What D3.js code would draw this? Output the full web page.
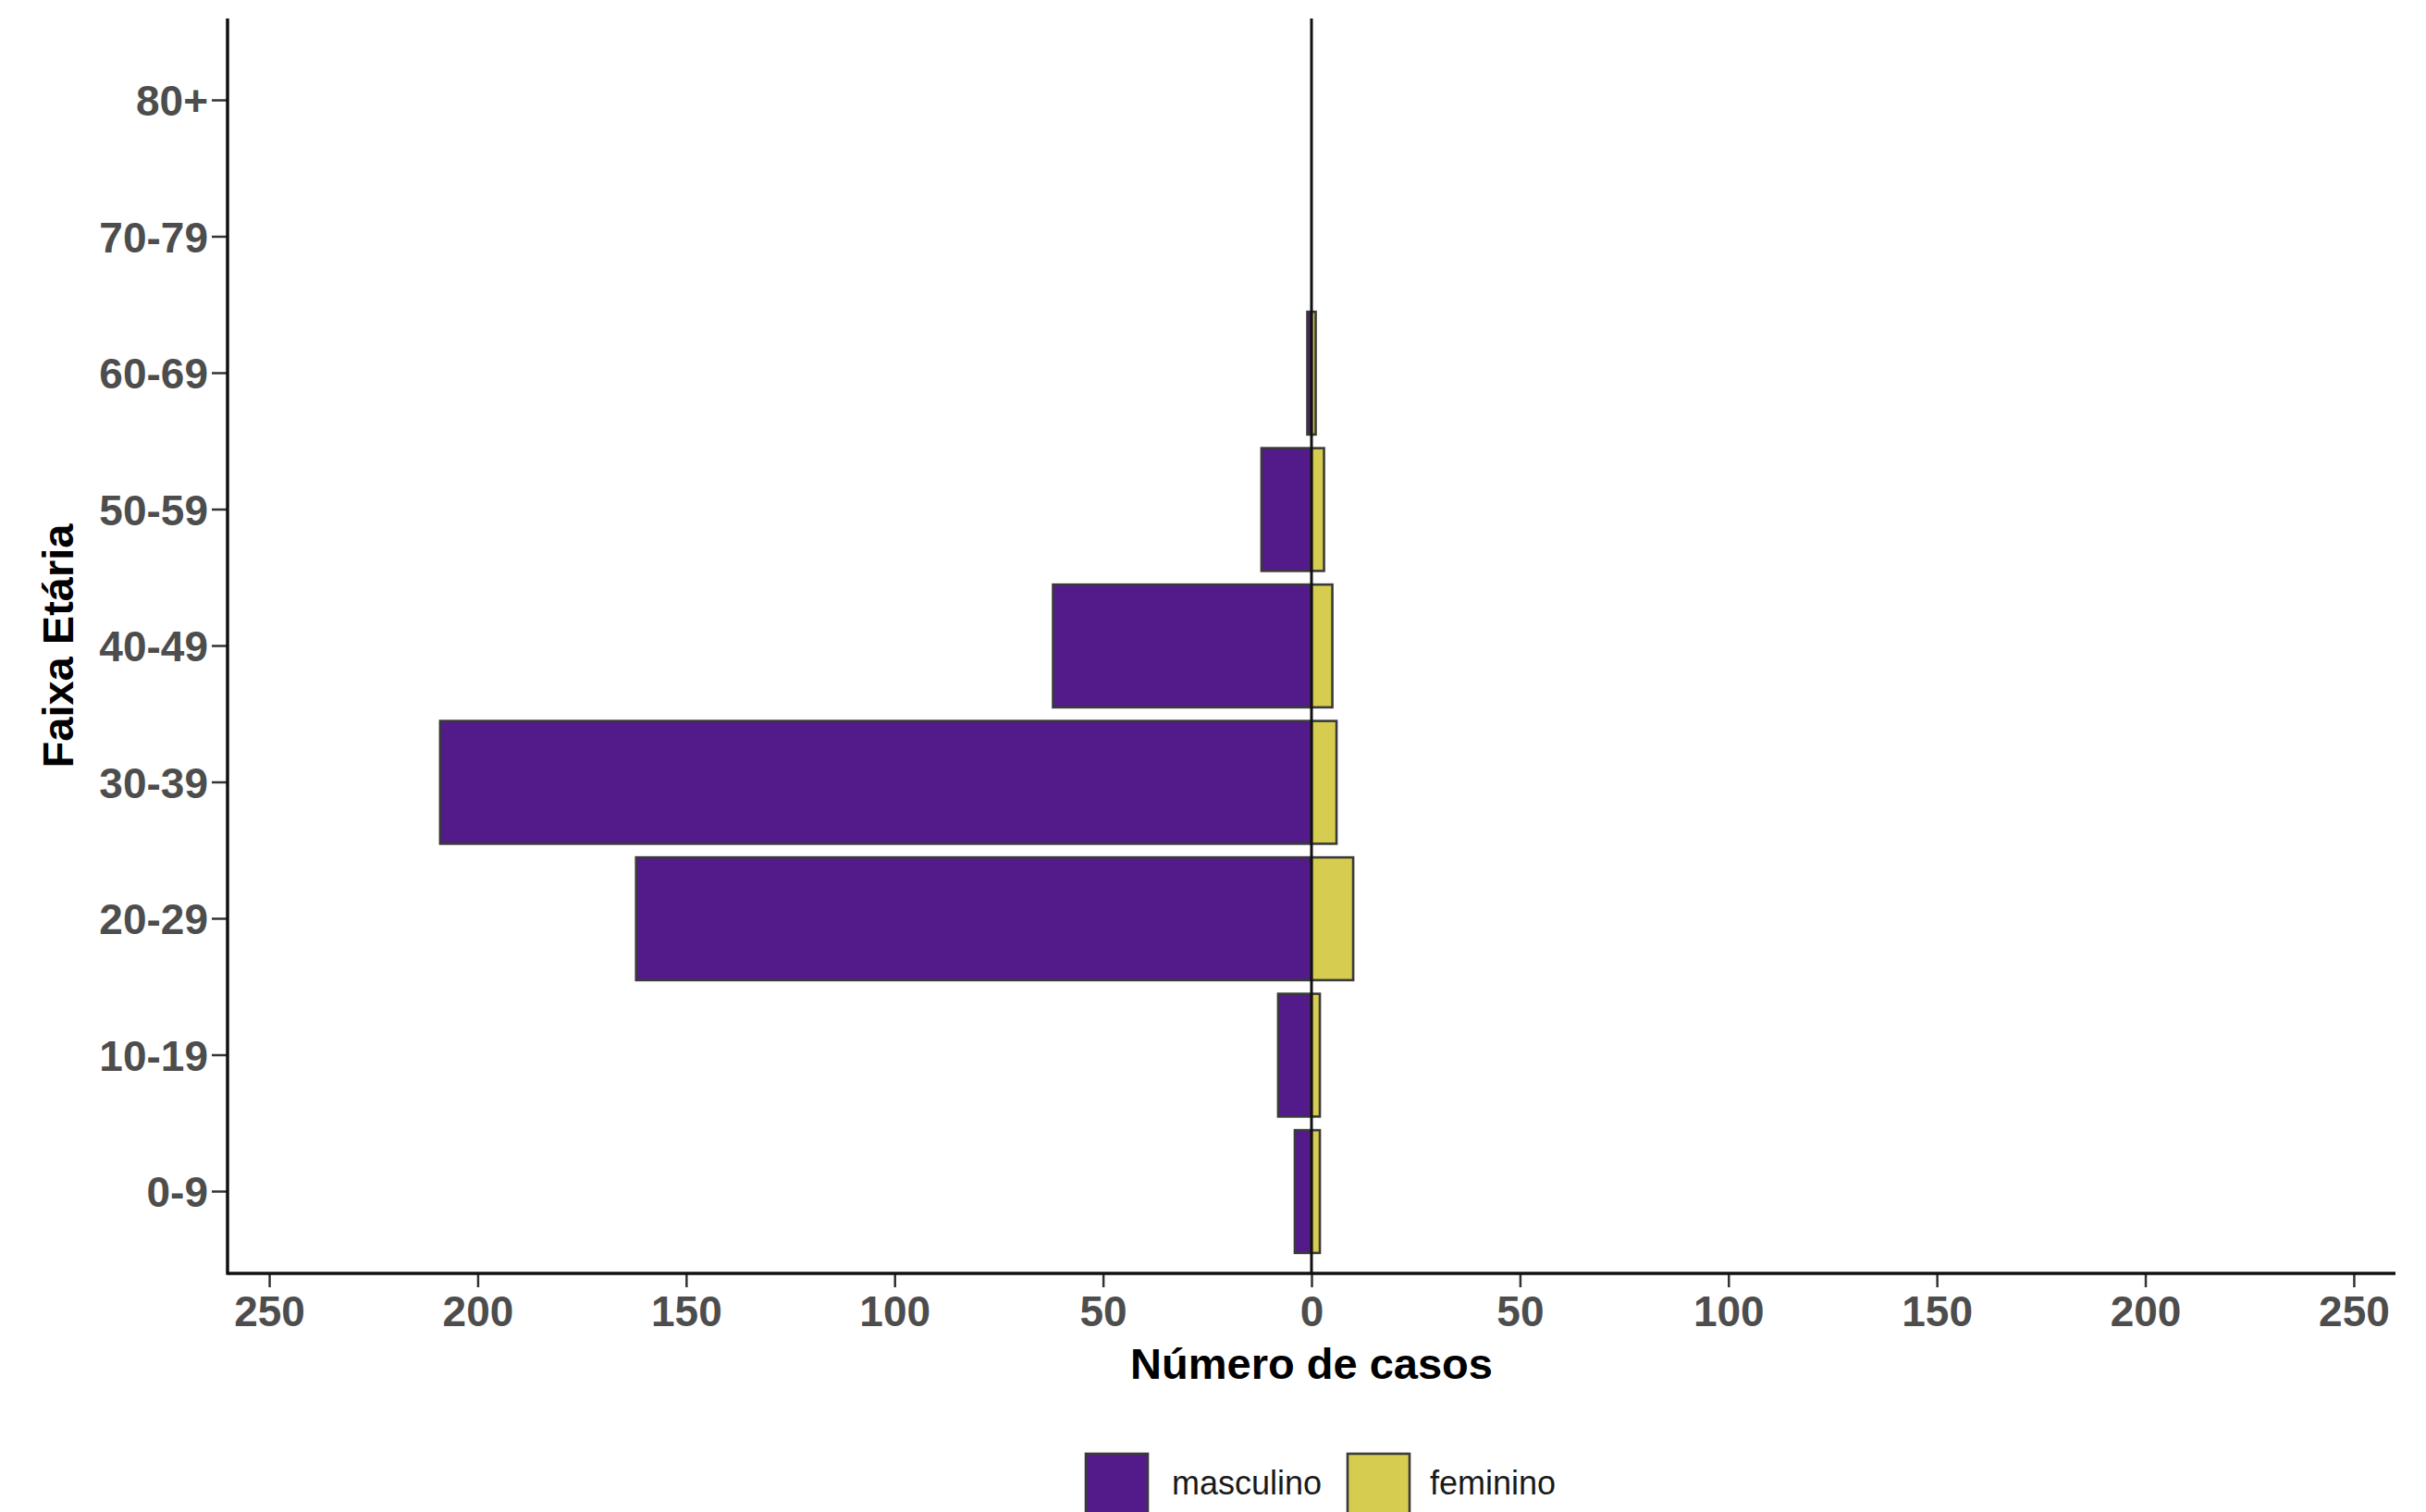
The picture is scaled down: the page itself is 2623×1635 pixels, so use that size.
<!DOCTYPE html>
<html>
<head>
<meta charset="utf-8">
<script src="https://cdn.jsdelivr.net/npm/d3@7"></script>
<style>
  html, body { margin: 0; padding: 0; background: #ffffff; }
  svg { display: block; }
  text { font-family: "Liberation Sans", Arial, sans-serif; }
</style>
</head>
<body>
<svg id="chart" width="2623" height="1635"></svg>
<script>
// ---- data ----
const categories = ["0-9", "10-19", "20-29", "30-39", "40-49", "50-59", "60-69", "70-79", "80+"];
const masculino = [4, 8, 162, 209, 62, 12, 1, 0, 0];
const feminino  = [2, 2, 10, 6, 5, 3, 1, 0, 0];
const xTicks = [-250, -200, -150, -100, -50, 0, 50, 100, 150, 200, 250];
const seriesNames = ["masculino", "feminino"];
const seriesColors = ["#531b8a", "#d6cd50"];

// ---- layout ----
const W = 2623, H = 1635;
const plot = { left: 246, right: 2590, top: 20, bottom: 1377 };

const svg = d3.select("#chart");

const x = d3.scaleLinear().domain([-260, 260]).range([plot.left, plot.right]);
const y = d3.scaleBand()
  .domain(categories)
  .range([plot.bottom, plot.top])
  .paddingInner(0.1)
  .paddingOuter(0.15);

const rows = categories.map((c, i) => ({ cat: c, m: masculino[i], f: feminino[i] }));

// bars
const g = svg.append("g");
g.selectAll("rect.m").data(rows).join("rect")
  .attr("class", "m")
  .attr("x", d => x(-d.m))
  .attr("width", d => x(0) - x(-d.m))
  .attr("y", d => y(d.cat))
  .attr("height", y.bandwidth())
  .attr("fill", seriesColors[0])
  .attr("stroke", "#3a3a3a")
  .attr("stroke-width", 2.6);

g.selectAll("rect.f").data(rows).join("rect")
  .attr("class", "f")
  .attr("x", x(0))
  .attr("width", d => x(d.f) - x(0))
  .attr("y", d => y(d.cat))
  .attr("height", y.bandwidth())
  .attr("fill", seriesColors[1])
  .attr("stroke", "#3a3a3a")
  .attr("stroke-width", 2.6);

// zero line
svg.append("line")
  .attr("x1", x(0)).attr("x2", x(0))
  .attr("y1", plot.top).attr("y2", plot.bottom)
  .attr("stroke", "#111")
  .attr("stroke-width", 3);

// x axis
const xAxis = d3.axisBottom(x)
  .tickValues(xTicks)
  .tickFormat(d => Math.abs(d))
  .tickSize(15)
  .tickPadding(6);
const gx = svg.append("g")
  .attr("transform", `translate(0,${plot.bottom})`)
  .call(xAxis);
gx.select(".domain").remove();
gx.append("line")
  .attr("x1", plot.left).attr("x2", plot.right)
  .attr("y1", 0).attr("y2", 0)
  .attr("stroke", "#111").attr("stroke-width", 3.5);
gx.selectAll(".tick line").attr("stroke", "#333").attr("stroke-width", 2.5);
gx.selectAll(".tick text")
  .attr("font-size", 46)
  .attr("font-weight", "bold")
  .attr("fill", "#4d4d4d")
  .attr("dy", "0.78em");

// y axis
const yAxis = d3.axisLeft(y).tickSize(17).tickPadding(4);
const gy = svg.append("g")
  .attr("transform", `translate(${plot.left},0)`)
  .call(yAxis);
gy.select(".domain").remove();
gy.append("line")
  .attr("x1", 0).attr("x2", 0)
  .attr("y1", plot.top).attr("y2", plot.bottom + 1.5)
  .attr("stroke", "#111").attr("stroke-width", 3.5);
gy.selectAll(".tick line").attr("stroke", "#333").attr("stroke-width", 2.5);
gy.selectAll(".tick text")
  .attr("font-size", 46)
  .attr("font-weight", "bold")
  .attr("fill", "#4d4d4d")
  .attr("dy", "0.36em");

// axis titles
svg.append("text")
  .attr("x", x(0))
  .attr("y", 1491)
  .attr("text-anchor", "middle")
  .attr("font-size", 47)
  .attr("font-weight", "bold")
  .attr("fill", "#000")
  .text("Número de casos");

svg.append("text")
  .attr("transform", `translate(79,${(plot.top + plot.bottom) / 2}) rotate(-90)`)
  .attr("text-anchor", "middle")
  .attr("font-size", 47)
  .attr("font-weight", "bold")
  .attr("fill", "#000")
  .text("Faixa Etária");

// legend
const legendItems = [
  { name: seriesNames[0], color: seriesColors[0], kx: 1174, tx: 1267 },
  { name: seriesNames[1], color: seriesColors[1], kx: 1457, tx: 1546 }
];
const lg = svg.append("g");
legendItems.forEach(it => {
  lg.append("rect")
    .attr("x", it.kx).attr("y", 1572)
    .attr("width", 67).attr("height", 67)
    .attr("fill", it.color)
    .attr("stroke", "#3a3a3a")
    .attr("stroke-width", 2.6);
  lg.append("text")
    .attr("x", it.tx).attr("y", 1616)
    .attr("font-size", 36)
    .attr("fill", "#1a1a1a")
    .text(it.name);
});
</script>
</body>
</html>
